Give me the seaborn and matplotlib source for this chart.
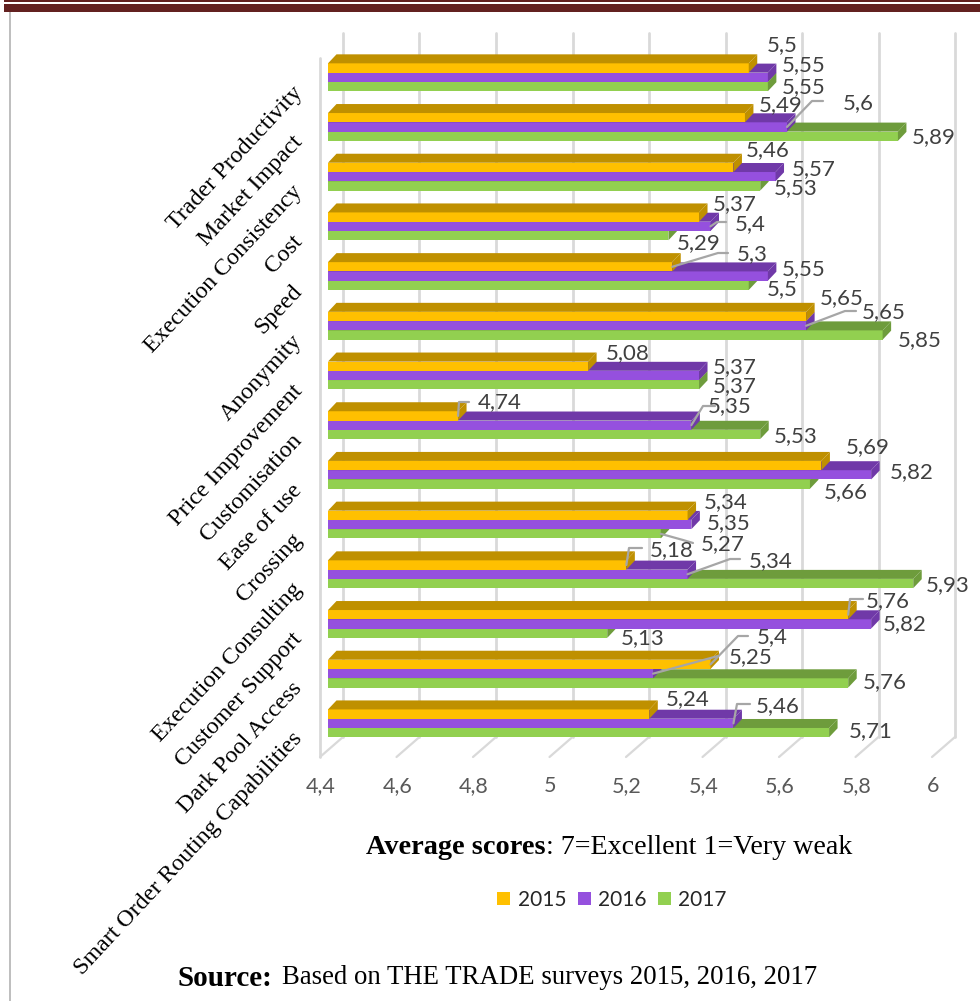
import numpy as np
import pandas as pd
import matplotlib
matplotlib.use("Agg")
import matplotlib.pyplot as plt
from matplotlib.patches import Polygon, Rectangle
from matplotlib.transforms import Affine2D, ScaledTranslation
import seaborn as sns

categories = [
    "Trader Productivity", "Market Impact", "Execution Consistency", "Cost",
    "Speed", "Anonymity", "Price Improvement", "Customisation", "Ease of use",
    "Crossing", "Execution Consulting", "Customer Support", "Dark Pool Access",
    "Smart Order Routing Capabilities",
]
years = ["2015", "2016", "2017"]
scores_2015 = [5.5, 5.49, 5.46, 5.37, 5.3, 5.65, 5.08, 4.74, 5.69, 5.34, 5.18, 5.76, 5.4, 5.24]
scores_2016 = [5.55, 5.6, 5.57, 5.4, 5.55, 5.65, 5.37, 5.35, 5.82, 5.35, 5.34, 5.82, 5.25, 5.46]
scores_2017 = [5.55, 5.89, 5.53, 5.29, 5.5, 5.85, 5.37, 5.53, 5.66, 5.27, 5.93, 5.13, 5.76, 5.71]
x_ticks = [4.4, 4.6, 4.8, 5, 5.2, 5.4, 5.6, 5.8, 6]

front_colors = ["#FFC000", "#9550DE", "#92D050"]
dark_colors = ["#BF9000", "#7039A8", "#6E9C3C"]

# where the value labels sit in the picture, in pixels (row by row, 2015/2016/2017)
label_px = [
    [(782, 45), (804, 65), (804, 87)],
    [(781, 105), (858, 103), (934, 137)],
    [(768, 150), (814, 169), (796, 188)],
    [(735, 204), (750, 224), (699, 243)],
    [(752, 254), (804, 269), (782, 289)],
    [(842, 298), (884, 312), (920, 340)],
    [(628, 353), (735, 367), (735, 386)],
    [(500, 402), (730, 406), (796, 436)],
    [(868, 447), (912, 472), (846, 492)],
    [(726, 502), (729, 523), (723, 544)],
    [(672, 550), (771, 561), (948, 585)],
    [(888, 601), (905, 624), (643, 638)],
    [(772, 637), (751, 657), (885, 682)],
    [(688, 699), (778, 706), (871, 731)],
]
# leader lines: (row, series) -> knee and end in pixels, the start is the bar end
leaders = {
    (1, 1): [(812, 101), (823, 101)],
    (3, 1): [(717, 222), (726, 222)],
    (4, 0): [(718, 253), (728, 253)],
    (5, 1): [(845, 311), (856, 311)],
    (7, 0): [(459, 402), (469, 402)],
    (7, 1): [(703, 406), (715, 406)],
    (9, 2): [(683, 540), (693, 543)],
    (10, 0): [(629, 548), (642, 548)],
    (10, 1): [(730, 559), (740, 559)],
    (11, 0): [(850, 599), (863, 599)],
    (12, 0): [(738, 636), (748, 636)],
    (12, 1): [(718, 656)],
    (13, 1): [(737, 704), (750, 704)],
}

W, H = 980, 1001
AX_L, AX_R, AX_T, AX_B = 328, 940, 33, 757
ROW_0, ROW_STEP = 77.25, 49.7
DEPTH_X, DEPTH_Y = 8.5, 9

sns.set_theme(style="white")
plt.rcParams["font.family"] = ["Lato", "DejaVu Sans"]

fig = plt.figure(figsize=(W / 100, H / 100), dpi=100)
ax = fig.add_axes([AX_L / W, 1 - AX_B / H, (AX_R - AX_L) / W, (AX_B - AX_T) / H])

df = pd.DataFrame({
    "category": categories * 3,
    "year": np.repeat(years, len(categories)),
    "score": scores_2015 + scores_2016 + scores_2017,
})
sns.barplot(
    data=df, x="score", y="category", hue="year", order=categories, hue_order=years,
    palette=front_colors, saturation=1, width=0.56, gap=0, linewidth=0, errorbar=None, ax=ax,
)
ax.set_xlim(x_ticks[0], x_ticks[-1])
ax.set_ylim((AX_B - ROW_0) / ROW_STEP, (AX_T - ROW_0) / ROW_STEP)
ax.set_xlabel("")
ax.set_ylabel("")
ax.patch.set_alpha(0)
sns.despine(ax=ax, left=True, bottom=True)

px_x = (AX_R - AX_L) / (x_ticks[-1] - x_ticks[0])
dx, dy = DEPTH_X / px_x, DEPTH_Y / ROW_STEP

# 3d walls
grid_c = "#D9D9D9"
floor_y = ax.get_ylim()[0]
back_y = floor_y - 20 / ROW_STEP
for t in x_ticks:
    ax.plot([t + 15 / px_x] * 2, [ax.get_ylim()[1], back_y], color=grid_c, lw=2, zorder=1, clip_on=False)
    ax.plot([t + 15 / px_x, t - 8 / px_x], [back_y, floor_y], color=grid_c, lw=1.6, zorder=1, clip_on=False)
ax.plot([x_ticks[0] - 8 / px_x] * 2, [(58 - ROW_0) / ROW_STEP, floor_y], color=grid_c, lw=2, zorder=1, clip_on=False)

# caps and side faces for every bar
for s, cont in enumerate(ax.containers):
    z = 12 - s
    for rect in cont.patches:
        rect.set_zorder(z)
        x0, x1 = x_ticks[0], rect.get_x() + rect.get_width()
        y0, y1 = rect.get_y(), rect.get_y() + rect.get_height()
        top = [(x0, y0), (x1, y0), (x1 + dx, y0 - dy), (x0 + dx, y0 - dy)]
        side = [(x1, y0), (x1 + dx, y0 - dy), (x1 + dx, y1 - dy), (x1, y1)]
        for pts in (top, side):
            ax.add_patch(Polygon(pts, closed=True, fc=dark_colors[s], ec="none", zorder=z, clip_on=False))

# picture pixels -> display
to_px = Affine2D().scale(1, -1).translate(0, H)

all_scores = [scores_2015, scores_2016, scores_2017]
for s, cont in enumerate(ax.containers):
    for i, rect in enumerate(cont.patches):
        v = all_scores[s][i]
        px, py = label_px[i][s]
        txt = f"{v:g}".replace(".", ",")
        fig.text(px / W, 1 - py / H, txt, color="#404040", fontsize=16, ha="center", va="center", zorder=50)
        if (i, s) in leaders:
            start = ax.transData.transform((v, rect.get_y() + rect.get_height() / 2))
            sx, sy = start[0], H - start[1]
            pts = [(sx, sy)] + leaders[(i, s)]
            xs, ys = zip(*pts)
            ax.plot(xs, ys, color="#A6A6A6", lw=1.6, transform=to_px, zorder=40, clip_on=False)

# ticks
ax.set_xticks(x_ticks)
ax.set_xticklabels([f"{t:g}".replace(".", ",") for t in x_ticks], fontsize=15.5, color="#595959")
ax.tick_params(axis="x", length=0, pad=14)
ax.tick_params(axis="y", length=0, pad=21)
for lab in ax.get_xticklabels():
    lab.set_transform(lab.get_transform() + ScaledTranslation(-7 / 100, 0, fig.dpi_scale_trans))
for lab in ax.get_yticklabels():
    lab.set_rotation(47)
    lab.set_rotation_mode("anchor")
    lab.set_ha("right")
    lab.set_va("center")
    lab.set_family("Liberation Serif")
    lab.set_fontsize(17.3)
    lab.set_color("black")
    lab.set_transform(lab.get_transform() + ScaledTranslation(0, -12 / 100, fig.dpi_scale_trans))

sns.move_legend(
    ax, "center", bbox_to_anchor=(612 / W, 1 - 900 / H), bbox_transform=fig.transFigure,
    ncol=3, title=None, frameon=False, fontsize=15, handlelength=0.62, handleheight=0.62,
    handletextpad=0.35, columnspacing=0.55,
)

# captions
serif = "Liberation Serif"
fig.text(366 / W, 1 - 847 / H, "Average scores", family=serif, weight="bold", fontsize=20.4, va="center", color="black")
fig.text(546 / W, 1 - 847 / H, ": 7=Excellent 1=Very weak", family=serif, fontsize=20.2, va="center", color="black")
fig.text(177 / W, 1 - 978 / H, "Source:", family=serif, weight="bold", fontsize=21, va="center", color="black")
fig.text(282 / W, 1 - 978 / H, "Based on THE TRADE surveys 2015, 2016, 2017", family=serif, fontsize=19.3, va="center", color="black")

# page rules around the chart
fig.add_artist(Rectangle((4 / W, 1 - 2 / H), 1, 2 / H, transform=fig.transFigure, fc="#632120", ec="none"))
fig.add_artist(Rectangle((4 / W, 1 - 12 / H), 1, 8 / H, transform=fig.transFigure, fc="#632120", ec="none"))
fig.add_artist(Rectangle((8.5 / W, 0), 2.5 / W, 1 - 12 / H, transform=fig.transFigure, fc="#BFBFBF", ec="none"))

fig.savefig("out.png", dpi=100)
